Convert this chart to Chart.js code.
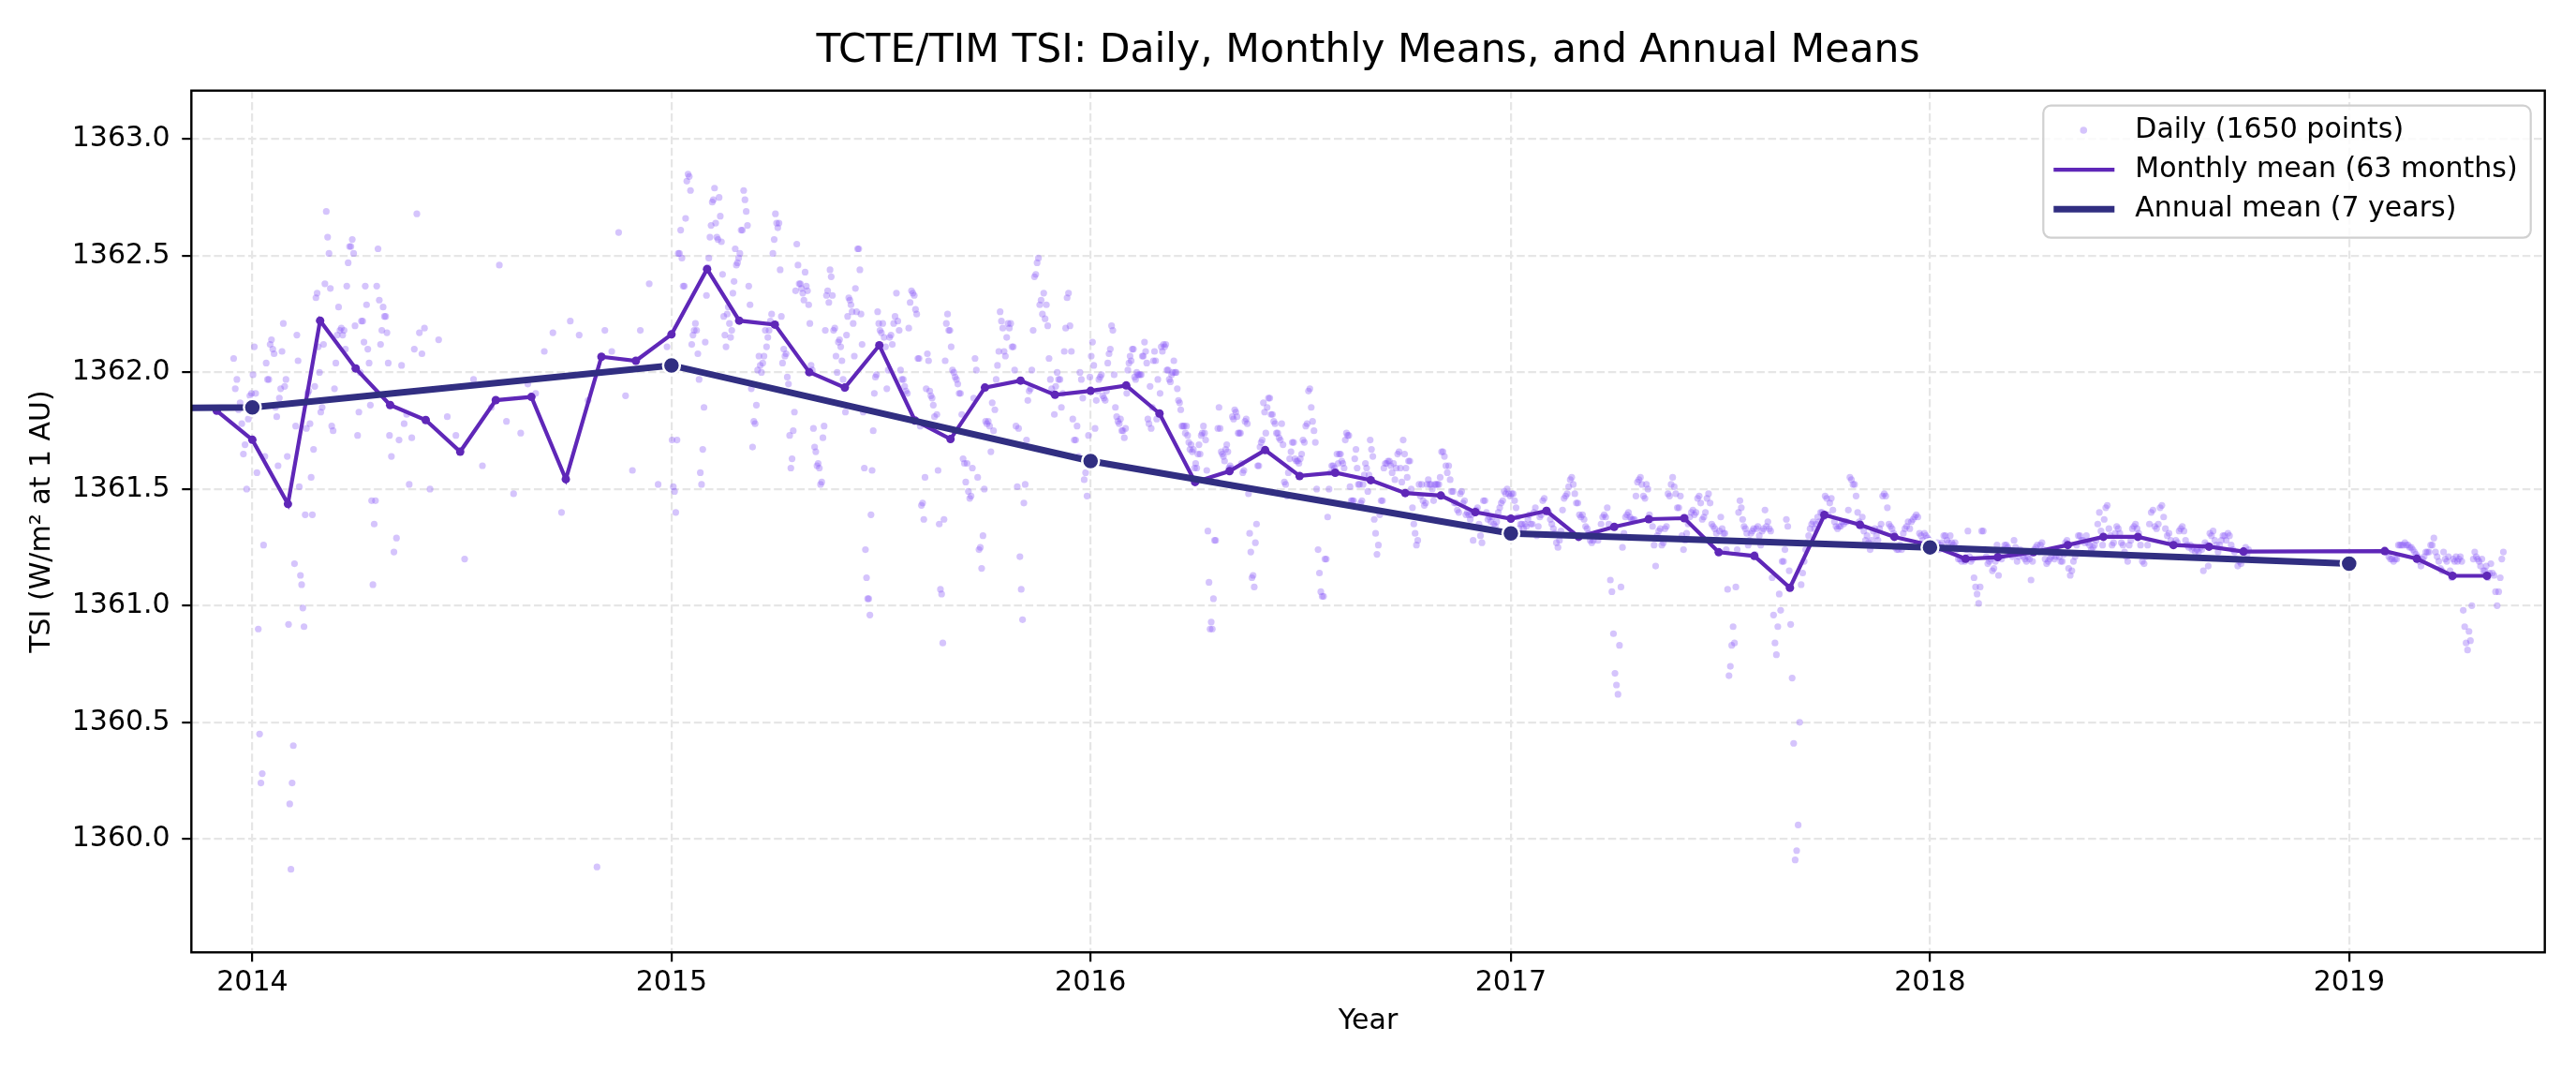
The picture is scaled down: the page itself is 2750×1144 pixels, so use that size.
<!DOCTYPE html>
<html>
<head>
<meta charset="utf-8">
<title>TCTE/TIM TSI</title>
<script src="https://cdn.jsdelivr.net/npm/chart.js@4.4.1/dist/chart.umd.min.js"></script>
<style>
  html, body { margin: 0; padding: 0; background: #fff; }
  #wrap { width: 2750px; height: 1144px; }
</style>
</head>
<body>
<div id="wrap"><canvas id="tsiChart" width="2750" height="1144"></canvas></div>
<script>
// Tick labels
const yearTicks = [2014, 2015, 2016, 2017, 2018, 2019];
const tsiTicks = [1360.0, 1360.5, 1361.0, 1361.5, 1362.0, 1362.5, 1363.0];

// Annual means (plotted at 1 January)
const annualYears = [2013, 2014, 2015, 2016, 2017, 2018, 2019];
const annualValues = [1361.84, 1361.85, 1362.03, 1361.62, 1361.31, 1361.25, 1361.18];

// Monthly means (plotted at the 1st of the month)
const monthlyMonths = [
  '2013-12',
  '2014-01', '2014-02', '2014-03', '2014-04', '2014-05', '2014-06', '2014-07', '2014-08', '2014-09', '2014-10', '2014-11', '2014-12',
  '2015-01', '2015-02', '2015-03', '2015-04', '2015-05', '2015-06', '2015-07', '2015-08', '2015-09', '2015-10', '2015-11', '2015-12',
  '2016-01', '2016-02', '2016-03', '2016-04', '2016-05', '2016-06', '2016-07', '2016-08', '2016-09', '2016-10', '2016-11', '2016-12',
  '2017-01', '2017-02', '2017-03', '2017-04', '2017-05', '2017-06', '2017-07', '2017-08', '2017-09', '2017-10', '2017-11', '2017-12',
  '2018-01', '2018-02', '2018-03', '2018-04', '2018-05', '2018-06', '2018-07', '2018-08', '2018-09', '2018-10',
  '2019-02', '2019-03', '2019-04', '2019-05'
];
const monthlyValues = [
  1361.836,
  1361.711, 1361.436, 1362.222, 1362.017, 1361.860, 1361.796, 1361.660, 1361.881, 1361.895, 1361.542, 1362.067, 1362.050,
  1362.163, 1362.443, 1362.222, 1362.205, 1362.001, 1361.935, 1362.116, 1361.794, 1361.714, 1361.935, 1361.965, 1361.904,
  1361.921, 1361.944, 1361.824, 1361.530, 1361.577, 1361.667, 1361.556, 1361.570, 1361.538, 1361.483, 1361.472, 1361.401,
  1361.373, 1361.406, 1361.295, 1361.338, 1361.371, 1361.375, 1361.229, 1361.213, 1361.077, 1361.389, 1361.347, 1361.295,
  1361.260, 1361.201, 1361.208, 1361.229, 1361.260, 1361.295, 1361.295, 1361.260, 1361.253, 1361.232,
  1361.234, 1361.201, 1361.128, 1361.128
];

// Daily values, one list per month (Jan..Dec), read left to right
const daily2013 = [
  [], [], [], [], [], [], [], [], [], [], [],
  [1362.06, 1361.93, 1361.97, 1361.84, 1361.87, 1361.78, 1361.65, 1361.69, 1361.50, 1361.80, 1361.90, 1361.91]
];
const daily2014 = [
  [1361.99, 1362.11, 1361.91, 1361.57, 1360.90, 1360.45, 1360.24, 1360.28, 1361.26, 1361.64, 1362.04, 1361.97, 1361.97, 1362.12, 1362.14, 1362.10, 1362.08, 1361.85, 1361.81, 1361.60, 1361.89, 1361.93, 1362.09, 1362.21, 1361.94, 1361.97, 1361.64],
  [1360.92, 1360.15, 1359.87, 1360.24, 1360.40, 1361.18, 1361.77, 1362.16, 1362.05, 1361.51, 1361.13, 1361.09, 1360.99, 1360.91, 1361.39, 1361.76, 1361.91, 1361.92, 1361.78, 1361.55, 1361.39, 1361.67, 1361.94, 1362.32, 1362.34, 1362.11, 1362.00],
  [1361.83, 1361.85, 1362.12, 1362.38, 1362.69, 1362.58, 1362.51, 1362.36, 1361.77, 1361.75, 1361.93, 1362.04, 1362.16, 1362.28, 1362.18, 1362.19, 1362.16, 1362.18, 1362.10, 1362.37, 1362.47, 1362.54, 1362.54, 1362.57, 1362.51, 1362.20],
  [1362.02, 1361.73, 1361.83, 1362.00, 1362.22, 1362.22, 1362.13, 1362.37, 1362.29, 1362.10, 1362.04, 1361.86, 1361.45, 1361.09, 1361.35, 1361.45, 1362.37, 1362.53, 1362.31, 1362.12, 1362.18, 1362.28, 1362.24, 1362.24, 1362.17, 1362.04, 1361.73],
  [1361.64, 1361.23, 1361.29, 1361.71, 1362.03, 1361.78, 1361.82, 1361.52, 1361.72, 1362.10, 1362.68, 1362.17, 1362.08, 1362.19],
  [1361.50, 1362.14, 1361.81, 1361.73],
  [1361.20, 1361.97, 1361.60, 1361.85],
  [1362.46, 1361.79, 1361.48, 1361.74, 1361.95],
  [1361.91, 1362.09, 1362.17, 1361.40],
  [1362.22, 1362.16, 1361.88, 1359.88],
  [1362.18, 1362.09, 1362.60, 1361.90, 1361.58],
  [1362.18, 1362.38, 1361.52, 1362.11]
];
const daily2015 = [
  [1361.71, 1361.51, 1361.49, 1361.40, 1361.71, 1362.51, 1362.51, 1362.61, 1362.49, 1362.37, 1362.37, 1362.66, 1362.82, 1362.85, 1362.84, 1362.78, 1362.12, 1362.16, 1362.18, 1362.21, 1362.18, 1362.08, 1361.97, 1361.57, 1361.52, 1361.67, 1361.85, 1362.13, 1362.33],
  [1362.45, 1362.49, 1362.58, 1362.63, 1362.73, 1362.74, 1362.79, 1362.64, 1362.58, 1362.57, 1362.75, 1362.67, 1362.56, 1362.42, 1362.24, 1362.16, 1362.11, 1362.25, 1362.28, 1362.21, 1362.15, 1362.18, 1362.34, 1362.39, 1362.53, 1362.46, 1362.47, 1362.49],
  [1362.51, 1362.61, 1362.61, 1362.78, 1362.74, 1362.69, 1362.63, 1362.37, 1362.29, 1361.93, 1361.68, 1361.79, 1361.78, 1361.86, 1362.01, 1362.07, 1362.03, 1362.00, 1362.04, 1362.07, 1362.18, 1362.11, 1362.15, 1362.18, 1362.22, 1362.25, 1362.51, 1362.57],
  [1362.68, 1362.64, 1362.62, 1362.64, 1362.44, 1362.24, 1362.04, 1362.10, 1362.07, 1362.08, 1361.98, 1361.95, 1361.73, 1361.59, 1361.63, 1361.75, 1361.83, 1362.35, 1362.55, 1362.46, 1362.38, 1362.38, 1362.36, 1362.34, 1362.31, 1362.43, 1362.37, 1362.35, 1362.29],
  [1362.21, 1362.03, 1362.01, 1361.76, 1361.68, 1361.66, 1361.60, 1361.61, 1361.59, 1361.52, 1361.53, 1361.72, 1361.77, 1362.18, 1362.33, 1362.35, 1362.30, 1362.44, 1362.41, 1362.33, 1362.18, 1362.19, 1362.07, 1362.00, 1362.13, 1362.14, 1362.11, 1362.05, 1361.97, 1361.93],
  [1361.83, 1362.16, 1362.24, 1362.32, 1362.31, 1362.29, 1362.26, 1362.21, 1362.07, 1362.36, 1362.26, 1362.53, 1362.53, 1362.44, 1362.25, 1362.12, 1361.83, 1361.59, 1361.24, 1361.12, 1361.03, 1361.03, 1360.96, 1361.39, 1361.58, 1361.75, 1361.91, 1361.98, 1361.99, 1362.26, 1362.21],
  [1362.18, 1362.17, 1362.21, 1362.15, 1362.11, 1361.93, 1362.01, 1362.15, 1362.16, 1362.12, 1362.21, 1362.24, 1362.34, 1362.22, 1362.18, 1362.01, 1361.97, 1361.97, 1361.94, 1361.92, 1361.91, 1362.19, 1362.30, 1362.35, 1362.34, 1362.33],
  [1362.27, 1362.25, 1362.06, 1362.06, 1361.77, 1361.43, 1361.44, 1361.37, 1361.55, 1361.93, 1362.08, 1362.05, 1361.92, 1361.90, 1361.89, 1361.86, 1361.81, 1361.77, 1361.82, 1361.58, 1361.35, 1361.07, 1361.05, 1360.84, 1361.37, 1362.05, 1362.21, 1362.25, 1362.18, 1362.18],
  [1362.11, 1362.01, 1362.00, 1361.98, 1361.97, 1361.95, 1361.91, 1361.91, 1361.82, 1361.63, 1361.61, 1361.53, 1361.61, 1361.49, 1361.46, 1361.47, 1361.59, 1361.89, 1362.06, 1362.01, 1361.55, 1361.24, 1361.25, 1361.16, 1361.30, 1361.50],
  [1361.79, 1361.78, 1361.79, 1361.77, 1361.66, 1361.87, 1361.75, 1361.84, 1361.97, 1362.03, 1362.09, 1362.26, 1362.22, 1362.19, 1362.09, 1362.07, 1362.15, 1362.21, 1362.19, 1362.21, 1362.11, 1362.11, 1362.01, 1361.77, 1361.51, 1361.76, 1361.21],
  [1361.07, 1360.94, 1361.44, 1361.52, 1361.71, 1361.88, 1361.92, 1361.93, 1362.01, 1362.18, 1362.41, 1362.42, 1362.47, 1362.49, 1362.29, 1362.31, 1362.25, 1362.34, 1362.23, 1362.29, 1362.20, 1362.06, 1361.97, 1361.93, 1361.91, 1361.82],
  [1361.94, 1362.00, 1361.97, 1361.97, 1361.85, 1361.91, 1362.09, 1362.19, 1362.32, 1362.34, 1362.20, 1362.09, 1361.80, 1361.71, 1361.71, 1361.77, 1361.64, 1362.00, 1361.97, 1361.89, 1361.54, 1361.57, 1361.47, 1361.73, 1361.98]
];
const daily2016 = [
  [1362.07, 1362.13, 1362.03, 1361.76, 1361.88, 1361.92, 1361.97, 1361.98, 1361.99, 1361.90, 1361.89, 1361.88, 1361.92, 1362.04, 1362.08, 1362.10, 1362.20, 1362.18, 1361.99, 1361.85, 1361.81, 1361.79, 1361.78, 1361.80, 1361.75, 1361.75, 1361.72, 1361.76],
  [1361.91, 1362.01, 1362.04, 1362.07, 1362.05, 1362.10, 1362.10, 1361.98, 1361.97, 1362.00, 1361.99, 1361.99, 1361.99, 1361.99, 1362.07, 1362.07, 1362.13, 1362.09, 1362.04, 1361.80, 1361.78, 1361.94, 1361.76, 1361.85, 1362.05, 1362.09, 1362.05, 1361.80, 1361.97, 1361.82],
  [1361.91, 1362.11, 1362.09, 1362.12, 1362.11, 1362.12, 1362.01, 1362.01, 1361.97, 1361.96, 1361.99, 1362.00, 1362.05, 1362.00, 1362.00, 1361.93, 1361.88, 1361.87, 1361.84, 1361.77, 1361.77, 1361.77, 1361.74, 1361.77, 1361.73, 1361.70, 1361.67, 1361.69, 1361.66, 1361.67, 1361.59],
  [1361.61, 1361.59, 1361.65, 1361.69, 1361.65, 1361.73, 1361.74, 1361.77, 1361.74, 1361.71, 1361.58, 1361.32, 1361.10, 1360.90, 1360.93, 1360.90, 1361.03, 1361.28, 1361.28, 1361.53, 1361.76, 1361.85, 1361.76, 1361.66, 1361.65, 1361.64, 1361.62, 1361.67, 1361.69, 1361.66, 1361.59],
  [1361.60, 1361.59, 1361.81, 1361.80, 1361.84, 1361.83, 1361.81, 1361.74, 1361.74, 1361.74, 1361.61, 1361.57, 1361.58, 1361.79, 1361.80, 1361.78, 1361.48, 1361.31, 1361.23, 1361.12, 1361.13, 1361.08, 1361.27, 1361.35, 1361.60, 1361.60, 1361.68, 1361.70, 1361.71, 1361.87, 1361.83],
  [1361.74, 1361.85, 1361.89, 1361.89, 1361.82, 1361.82, 1361.79, 1361.78, 1361.74, 1361.74, 1361.72, 1361.71, 1361.78, 1361.69, 1361.53, 1361.52, 1361.47, 1361.57, 1361.63, 1361.66, 1361.70, 1361.70, 1361.63, 1361.62, 1361.62, 1361.61],
  [1361.63, 1361.65, 1361.71, 1361.70, 1361.77, 1361.78, 1361.92, 1361.93, 1361.85, 1361.79, 1361.75, 1361.70, 1361.50, 1361.24, 1361.14, 1361.06, 1361.04, 1361.04, 1361.20, 1361.20, 1361.38, 1361.50, 1361.57, 1361.60, 1361.60, 1361.59],
  [1361.57, 1361.65, 1361.61, 1361.65, 1361.65, 1361.62, 1361.61, 1361.59, 1361.71, 1361.74, 1361.73, 1361.73, 1361.51, 1361.45, 1361.45, 1361.45, 1361.63, 1361.67, 1361.59, 1361.52, 1361.52, 1361.44, 1361.45, 1361.52, 1361.56, 1361.61, 1361.59, 1361.49, 1361.56, 1361.71],
  [1361.67, 1361.64, 1361.37, 1361.31, 1361.22, 1361.26, 1361.39, 1361.45, 1361.45, 1361.59, 1361.61, 1361.61, 1361.62, 1361.62, 1361.60, 1361.57, 1361.61, 1361.54, 1361.59, 1361.65, 1361.66, 1361.59, 1361.53, 1361.71, 1361.65],
  [1361.59, 1361.55, 1361.62, 1361.62, 1361.50, 1361.42, 1361.35, 1361.31, 1361.26, 1361.28, 1361.52, 1361.47, 1361.52, 1361.45, 1361.43, 1361.44, 1361.52, 1361.54, 1361.52, 1361.52, 1361.50, 1361.45, 1361.52, 1361.52, 1361.52, 1361.52, 1361.55],
  [1361.66, 1361.66, 1361.64, 1361.60, 1361.57, 1361.60, 1361.54, 1361.49, 1361.49, 1361.44, 1361.44, 1361.41, 1361.40, 1361.48, 1361.49, 1361.44, 1361.45, 1361.39, 1361.40, 1361.39, 1361.37, 1361.39, 1361.28, 1361.40],
  [1361.41, 1361.42, 1361.35, 1361.30, 1361.27, 1361.45, 1361.45, 1361.40, 1361.37, 1361.38, 1361.36, 1361.38, 1361.35, 1361.34, 1361.36, 1361.40, 1361.42, 1361.44, 1361.45, 1361.49, 1361.48, 1361.50, 1361.48, 1361.47]
];
const daily2017 = [
  [1361.48, 1361.48, 1361.45, 1361.42, 1361.38, 1361.33, 1361.35, 1361.35, 1361.33, 1361.35, 1361.34, 1361.37, 1361.39, 1361.35, 1361.35, 1361.40, 1361.42, 1361.30, 1361.34, 1361.38, 1361.39, 1361.45, 1361.46, 1361.41],
  [1361.41, 1361.40, 1361.37, 1361.35, 1361.33, 1361.31, 1361.27, 1361.25, 1361.28, 1361.32, 1361.41, 1361.46, 1361.47, 1361.48, 1361.51, 1361.54, 1361.55, 1361.52, 1361.48, 1361.44, 1361.44],
  [1361.39, 1361.38, 1361.39, 1361.37, 1361.34, 1361.33, 1361.31, 1361.28, 1361.27, 1361.28, 1361.30, 1361.31, 1361.28, 1361.30, 1361.35, 1361.38, 1361.39, 1361.38, 1361.42, 1361.35, 1361.11, 1361.06, 1360.88],
  [1360.71, 1360.66, 1360.62, 1360.83, 1361.08, 1361.25, 1361.31, 1361.38, 1361.39, 1361.40, 1361.38, 1361.37, 1361.37, 1361.37, 1361.47, 1361.53, 1361.54, 1361.55, 1361.52, 1361.47, 1361.46, 1361.52, 1361.50],
  [1361.39, 1361.37, 1361.34, 1361.26, 1361.17, 1361.30, 1361.32, 1361.33, 1361.26, 1361.27, 1361.33, 1361.34, 1361.48, 1361.47, 1361.52, 1361.55, 1361.51, 1361.48, 1361.42, 1361.42, 1361.47, 1361.30, 1361.24],
  [1361.28, 1361.31, 1361.35, 1361.38, 1361.40, 1361.41, 1361.39, 1361.40, 1361.46, 1361.47, 1361.44, 1361.37, 1361.38, 1361.40, 1361.46, 1361.48, 1361.44, 1361.35, 1361.34, 1361.33, 1361.31, 1361.28],
  [1361.32, 1361.38, 1361.33, 1361.31, 1361.31, 1361.24, 1361.07, 1360.70, 1360.74, 1360.83, 1360.91, 1360.84, 1361.08, 1361.24, 1361.40, 1361.45, 1361.42, 1361.37, 1361.34, 1361.33, 1361.31, 1361.26, 1361.28, 1361.31, 1361.32, 1361.33],
  [1361.22, 1361.33, 1361.34, 1361.30, 1361.26, 1361.32, 1361.33, 1361.41, 1361.34, 1361.36, 1361.33, 1361.32, 1361.12, 1360.96, 1360.84, 1360.79, 1360.91, 1361.05, 1360.98, 1361.19, 1361.19, 1361.24, 1361.37, 1361.34, 1361.15],
  [1360.92, 1360.69, 1360.41, 1359.91, 1359.95, 1360.06, 1360.50, 1361.09, 1361.14, 1361.19, 1361.24, 1361.27, 1361.30, 1361.33, 1361.35, 1361.36, 1361.33, 1361.35, 1361.38, 1361.36, 1361.40, 1361.40, 1361.38],
  [1361.47, 1361.46, 1361.39, 1361.44, 1361.46, 1361.41, 1361.36, 1361.34, 1361.33, 1361.34, 1361.34, 1361.36, 1361.35, 1361.36, 1361.36, 1361.41, 1361.55, 1361.54, 1361.52, 1361.52, 1361.47, 1361.40, 1361.36],
  [1361.34, 1361.38, 1361.32, 1361.28, 1361.30, 1361.27, 1361.24, 1361.28, 1361.32, 1361.33, 1361.30, 1361.28, 1361.33, 1361.35, 1361.47, 1361.48, 1361.47, 1361.42, 1361.35, 1361.34, 1361.33, 1361.31],
  [1361.25, 1361.24, 1361.24, 1361.26, 1361.24, 1361.31, 1361.33, 1361.34, 1361.36, 1361.33, 1361.36, 1361.37, 1361.38, 1361.39, 1361.38, 1361.31, 1361.30, 1361.28, 1361.31, 1361.30, 1361.29, 1361.28]
];
const daily2018 = [
  [1361.26, 1361.24, 1361.26, 1361.26, 1361.27, 1361.24, 1361.26, 1361.27, 1361.30, 1361.30, 1361.28, 1361.27, 1361.30, 1361.27, 1361.26, 1361.27, 1361.24, 1361.20, 1361.20, 1361.19, 1361.20, 1361.19],
  [1361.24, 1361.32, 1361.21, 1361.19, 1361.20, 1361.12, 1361.08, 1361.05, 1361.01, 1361.08, 1361.32, 1361.32, 1361.24, 1361.21, 1361.18, 1361.19, 1361.20, 1361.15, 1361.16, 1361.19, 1361.26],
  [1361.13, 1361.21, 1361.20, 1361.24, 1361.26, 1361.26, 1361.25, 1361.24, 1361.23, 1361.21, 1361.28, 1361.25, 1361.19, 1361.21, 1361.24, 1361.23, 1361.21, 1361.20, 1361.19, 1361.21, 1361.20, 1361.11, 1361.19],
  [1361.24, 1361.25, 1361.26, 1361.23, 1361.26, 1361.27, 1361.24, 1361.20, 1361.18, 1361.19, 1361.20, 1361.21, 1361.23, 1361.20, 1361.21, 1361.23, 1361.21, 1361.19, 1361.19, 1361.22, 1361.27, 1361.28],
  [1361.16, 1361.13, 1361.15, 1361.19, 1361.21, 1361.26, 1361.30, 1361.30, 1361.28, 1361.28, 1361.27, 1361.30, 1361.27, 1361.26, 1361.24, 1361.25, 1361.26, 1361.28, 1361.35, 1361.40, 1361.32, 1361.26],
  [1361.37, 1361.42, 1361.43, 1361.33, 1361.30, 1361.26, 1361.27, 1361.31, 1361.34, 1361.33, 1361.31, 1361.27, 1361.26, 1361.23, 1361.21, 1361.19, 1361.26, 1361.28, 1361.33, 1361.34, 1361.35, 1361.33],
  [1361.31, 1361.26, 1361.19, 1361.18, 1361.21, 1361.26, 1361.35, 1361.40, 1361.41, 1361.34, 1361.33, 1361.35, 1361.42, 1361.43, 1361.38, 1361.33, 1361.30, 1361.31, 1361.28, 1361.26],
  [1361.26, 1361.28, 1361.27, 1361.32, 1361.33, 1361.34, 1361.32, 1361.28, 1361.26, 1361.25, 1361.26, 1361.24, 1361.25, 1361.23, 1361.24, 1361.23, 1361.25, 1361.24, 1361.15, 1361.27, 1361.26, 1361.17],
  [1361.31, 1361.30, 1361.32, 1361.28, 1361.26, 1361.23, 1361.26, 1361.28, 1361.30, 1361.30, 1361.28, 1361.31, 1361.30, 1361.26, 1361.24, 1361.23, 1361.20, 1361.17, 1361.19, 1361.18, 1361.23],
  [1361.23, 1361.25, 1361.22, 1361.24],
  [],
  []
];
const daily2019 = [
  [],
  [1361.23, 1361.23, 1361.21, 1361.20, 1361.20, 1361.19, 1361.20, 1361.20, 1361.26, 1361.26, 1361.26, 1361.26, 1361.27, 1361.26, 1361.26, 1361.25, 1361.25, 1361.24, 1361.23, 1361.22],
  [1361.21, 1361.19, 1361.17, 1361.20, 1361.21, 1361.23, 1361.23, 1361.23, 1361.26, 1361.26, 1361.29, 1361.23, 1361.21, 1361.19, 1361.16, 1361.15, 1361.23, 1361.20, 1361.19, 1361.21, 1361.15, 1361.12],
  [1361.20, 1361.19, 1361.21, 1361.19, 1361.20, 1361.21, 1361.19, 1360.98, 1360.91, 1360.84, 1360.81, 1360.89, 1360.85, 1361.00, 1361.20, 1361.23, 1361.21, 1361.20, 1361.19, 1361.17, 1361.20, 1361.15, 1361.15, 1361.17],
  [1361.12, 1361.14, 1361.18, 1361.14, 1361.13, 1361.06, 1361.00, 1361.06, 1361.12, 1361.20, 1361.23]
];
// months where the record covers only part of the month: [first day, last day]
const dailySpans = { '2013-12': [15, 31], '2018-10': [1, 5], '2019-05': [1, 15] };

const DAY0 = Date.UTC(2013, 11, 1);
function dayIndex(y, m, d) {
  return (Date.UTC(y, m - 1, d) - DAY0) / 86400000;
}
function daysInMonth(y, m) {
  return new Date(Date.UTC(y, m, 0)).getUTCDate();
}

// Build the point lists
const dailyPoints = [];
[[2013, daily2013], [2014, daily2014], [2015, daily2015], [2016, daily2016],
 [2017, daily2017], [2018, daily2018], [2019, daily2019]].forEach(([year, months]) => {
  months.forEach((vals, mi) => {
    if (!vals.length) return;
    const m = mi + 1;
    const key = year + '-' + String(m).padStart(2, '0');
    const span = dailySpans[key] || [1, daysInMonth(year, m)];
    const start = dayIndex(year, m, span[0]);
    const len = span[1] - span[0] + 1;
    vals.forEach((v, i) => {
      dailyPoints.push({ x: start + (i + 0.5) * len / vals.length, y: v });
    });
  });
});

const monthlyPoints = monthlyMonths.map((k, i) => {
  const [y, m] = k.split('-').map(Number);
  return { x: dayIndex(y, m, 1), y: monthlyValues[i] };
});
const annualPoints = annualYears.map((y, i) => ({ x: dayIndex(y, 1, 1), y: annualValues[i] }));

const DAILY_COLOR = 'rgba(139, 92, 246, 0.36)';
const MONTHLY_COLOR = '#5f27b8';
const ANNUAL_COLOR = '#312e81';

Chart.defaults.font.family = '"DejaVu Sans", sans-serif';
Chart.defaults.color = '#000';

// Full frame (all four spines) and a matplotlib style legend in the upper right
const frameAndLegend = {
  id: 'frameAndLegend',
  afterDraw(chart) {
    const { ctx, chartArea: a } = chart;
    ctx.save();
    ctx.strokeStyle = '#000';
    ctx.lineWidth = 2.4;
    ctx.strokeRect(a.left, a.top, a.right - a.left, a.bottom - a.top);

    ctx.font = '30px "DejaVu Sans"';
    const sets = chart.data.datasets;
    const textW = Math.max(...sets.map(d => ctx.measureText(d.label).width));
    const bw = 98 + textW + 14;
    const bh = 141;
    const bx = a.right - 15 - bw;
    const by = a.top + 16;
    ctx.beginPath();
    ctx.roundRect(bx, by, bw, bh, 8);
    ctx.fillStyle = 'rgba(255,255,255,0.8)';
    ctx.fill();
    ctx.strokeStyle = '#d0d0d0';
    ctx.lineWidth = 2.2;
    ctx.stroke();

    sets.forEach((d, i) => {
      const base = by + 34 + i * 42.1;
      const mid = base - 7.7;
      if (d.showLine === false) {
        ctx.beginPath();
        ctx.arc(bx + 43, mid, 3.8, 0, Math.PI * 2);
        ctx.fillStyle = d.pointBackgroundColor;
        ctx.fill();
      } else {
        ctx.beginPath();
        ctx.moveTo(bx + 11, mid);
        ctx.lineTo(bx + 76, mid);
        ctx.strokeStyle = d.borderColor;
        ctx.lineWidth = d.borderWidth;
        ctx.stroke();
      }
      ctx.fillStyle = '#000';
      ctx.textAlign = 'left';
      ctx.textBaseline = 'alphabetic';
      ctx.fillText(d.label, bx + 98, base);
    });
    ctx.restore();
  }
};

const axisGrid = {
  color: '#e6e6e6',
  lineWidth: 2.2,
  tickLength: 10,
  tickColor: '#000',
  tickWidth: 2.2,
  tickBorderDash: []
};

const tsiChart = new Chart(document.getElementById('tsiChart').getContext('2d'), {
  type: 'line',
  data: {
    datasets: [
      {
        label: 'Daily (1650 points)',
        data: dailyPoints,
        showLine: false,
        pointRadius: 3.6,
        pointBorderWidth: 0,
        pointBackgroundColor: DAILY_COLOR,
        borderColor: DAILY_COLOR,
        order: 3
      },
      {
        label: 'Monthly mean (63 months)',
        data: monthlyPoints,
        borderColor: MONTHLY_COLOR,
        borderWidth: 4.2,
        pointRadius: 4.5,
        pointBorderWidth: 0,
        pointBackgroundColor: MONTHLY_COLOR,
        tension: 0,
        clip: 0,
        order: 2
      },
      {
        label: 'Annual mean (7 years)',
        data: annualPoints,
        borderColor: ANNUAL_COLOR,
        borderWidth: 7,
        pointRadius: 9,
        pointBorderWidth: 2.5,
        pointBorderColor: '#ffffff',
        pointBackgroundColor: ANNUAL_COLOR,
        tension: 0,
        clip: 0,
        order: 1
      }
    ]
  },
  options: {
    responsive: false,
    devicePixelRatio: 1,
    animation: false,
    events: [],
    layout: { padding: { left: 0, right: 33.3, top: 0, bottom: 0 } },
    plugins: {
      legend: { display: false },
      tooltip: { enabled: false },
      title: {
        display: true,
        text: 'TCTE/TIM TSI: Daily, Monthly Means, and Annual Means',
        fullSize: false,
        color: '#000',
        font: { size: 42.5, weight: 'normal' },
        padding: { top: 29, bottom: 16.7 }
      }
    },
    scales: {
      x: {
        type: 'linear',
        min: -22.1,
        max: 2027.4,
        afterBuildTicks: scale => {
          scale.ticks = yearTicks.map(y => ({ value: dayIndex(y, 1, 1) }));
        },
        afterFit: scale => { scale.height = 127.7; },
        ticks: {
          color: '#000',
          font: { size: 30 },
          padding: 5.3,
          maxRotation: 0,
          autoSkip: false,
          callback: v => {
            const yr = yearTicks.find(y => dayIndex(y, 1, 1) === v);
            return yr === undefined ? '' : String(yr);
          }
        },
        grid: axisGrid,
        border: { display: false, dash: [8.5, 3.7] },
        title: {
          display: true,
          text: 'Year',
          color: '#000',
          font: { size: 30 },
          padding: { top: 0, bottom: 35.4 }
        }
      },
      y: {
        min: 1359.514,
        max: 1363.208,
        afterBuildTicks: scale => {
          scale.ticks = tsiTicks.map(v => ({ value: v }));
        },
        afterFit: scale => { scale.width = 204.3; },
        ticks: {
          color: '#000',
          font: { size: 30 },
          padding: 12.6,
          callback: v => Number(v).toFixed(1)
        },
        grid: axisGrid,
        border: { display: false, dash: [8.5, 3.7] },
        title: {
          display: true,
          text: 'TSI (W/m² at 1 AU)',
          color: '#000',
          font: { size: 30 },
          padding: { top: 27.7, bottom: 0 }
        }
      }
    }
  },
  plugins: [frameAndLegend]
});
</script>
</body>
</html>
